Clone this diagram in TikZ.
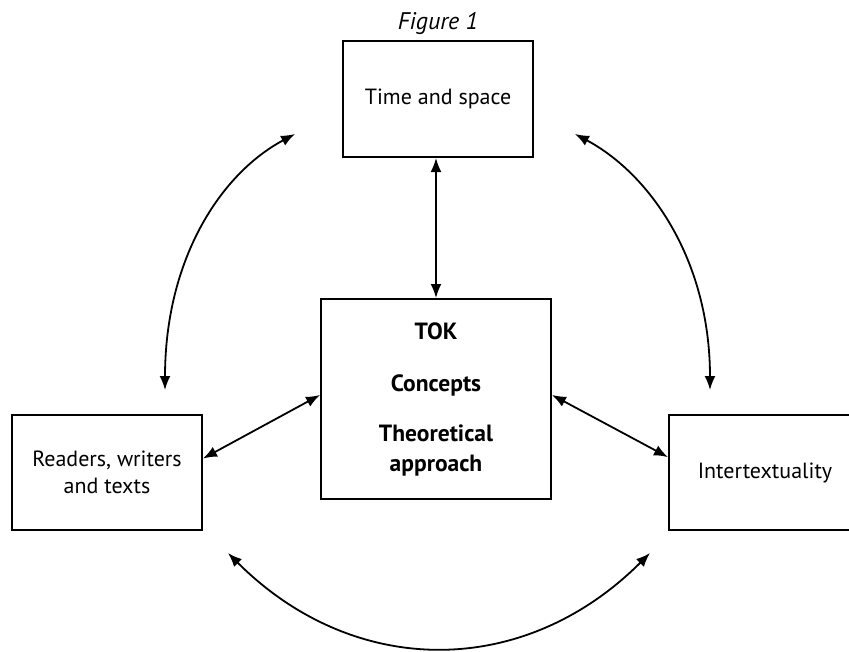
\documentclass[tikz,border=0pt]{standalone}
\usepackage{fontspec}
\setmainfont{PT Sans}
\usetikzlibrary{arrows.meta,positioning,calc}

\begin{document}
\begin{tikzpicture}[x=1pt,y=-1pt,
      b/.style={draw=black,line width=2pt,minimum width=190pt,minimum height=115pt,
                inner sep=0pt,align=center,font=\fontsize{22}{27}\selectfont},
      a/.style={{Latex[length=14pt,width=11pt]}-{Latex[length=14pt,width=11pt]},line width=1.8pt}]
      \clip (0,0) rectangle (849,651);
      \node[font=\itshape\fontsize{24}{26}\selectfont] (fig) at (438,23) {Figure 1};
      \node[b,minimum height=116pt] (ts) at (438,99) {Time and space};
      \node[b,minimum width=230pt,minimum height=200pt,
            font=\bfseries\fontsize{23.5}{30}\selectfont] (tok) at (436,399)
            {TOK\\[22pt]Concepts\\[20pt]Theoretical\\approach};
      \node[b] (rw) at (107,472) {Readers, writers\\and texts};
      \node[b,minimum width=192pt] (it) at (765,472.5) {Intertextuality};
      % ends of the outer arcs
      \coordinate (tl1) at (295,134); \coordinate (tl2) at (165,390);
      \coordinate (tr1) at (575,134); \coordinate (tr2) at (710,390);
      \coordinate (bl) at (228,553);  \coordinate (br) at (650,553);
      \draw[a] (ts.south -| tok.north) -- (tok.north);
      \draw[a] (rw.8) -- (tok.178);
      \draw[a] (tok.2) -- (it.171);
      \draw[a] (tl2) .. controls (165,260) and (220,174) .. (tl1);
      \draw[a] (tr2) .. controls (710,260) and (650,174) .. (tr1);
      \draw[a] (bl) .. controls (354,679) and (524,679) .. (br);
    \end{tikzpicture}
\end{document}
